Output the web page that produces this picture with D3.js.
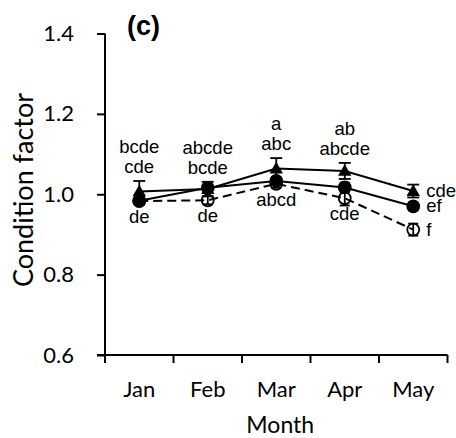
<!DOCTYPE html>
<html>
<head>
<meta charset="utf-8">
<script src="https://cdn.jsdelivr.net/npm/d3@7"></script>
<style>
  html, body { margin: 0; padding: 0; background: #fff; }
  svg { display: block; }
</style>
</head>
<body>
<svg id="chart" width="456" height="438"></svg>
<script>
// Monthly condition factor, three groups (mean ± SE) with significance letters
const months = ["Jan", "Feb", "Mar", "Apr", "May"];
const yTicks = [0.6, 0.8, 1.0, 1.2, 1.4];

const triMean = [1.007, 1.013, 1.064, 1.058, 1.008];
const triErr  = [0.026, 0.018, 0.026, 0.020, 0.016];
const dotMean = [0.984, 1.016, 1.033, 1.017, 0.970];
const dotErr  = [0.010, 0.008, 0.010, 0.012, 0.010];
const ringMean = [0.983, 0.985, 1.026, 0.990, 0.912];
const ringErr  = [0.008, 0.010, 0.010, 0.018, 0.015];

const triLetters  = ["bcde", "abcde", "a", "ab", "cde"];
const dotLetters  = ["cde", "bcde", "abc", "abcde", "ef"];
const ringLetters = ["de", "de", "abcd", "cde", "f"];

const svg = d3.select("#chart");
const plotLeft = 105, plotRight = 447.5, plotTop = 33.5, plotBottom = 355;

const x = d3.scaleBand().domain(months).range([plotLeft, plotRight]).padding(0);
const y = d3.scaleLinear().domain([0.6, 1.4]).range([plotBottom, plotTop]);
const cx = m => x(m) + x.bandwidth() / 2;

const axisFont = "Lato, 'Open Sans', sans-serif";
const letterFont = "'Liberation Sans', Arial, sans-serif";

// Axes
const yAxis = svg.append("g").attr("transform", `translate(${plotLeft},0)`)
  .call(d3.axisLeft(y).tickValues(yTicks).tickFormat(d3.format(".1f")).tickSize(8).tickPadding(23));
const xAxis = svg.append("g").attr("transform", `translate(0,${plotBottom})`)
  .call(d3.axisBottom(x).tickSize(0).tickPadding(26));
[yAxis, xAxis].forEach(g => {
  g.select(".domain").attr("stroke", "#000").attr("stroke-width", 2);
  g.selectAll(".tick line").attr("stroke", "#000").attr("stroke-width", 2);
  g.selectAll("text").attr("fill", "#000").style("font-family", axisFont).style("font-size", "22px");
});
yAxis.select(".domain").attr("d", `M0,${plotTop}V${plotBottom}`);
xAxis.select(".domain").attr("d", `M${plotLeft - 8},0H${plotRight}`);
// category separators below the x axis
xAxis.selectAll(".sep").data(months.concat(["_end"])).join("line")
  .attr("class", "sep")
  .attr("x1", (d, i) => i < months.length ? x(d) : plotRight)
  .attr("x2", (d, i) => i < months.length ? x(d) : plotRight)
  .attr("y1", 0).attr("y2", 8)
  .attr("stroke", "#000").attr("stroke-width", 2);

// Axis titles
svg.append("text")
  .attr("transform", `translate(33,190) rotate(-90)`)
  .attr("text-anchor", "middle")
  .style("font-family", axisFont).style("font-size", "27px")
  .text("Condition factor");
svg.append("text")
  .attr("x", (plotLeft + plotRight) / 2 + 4).attr("y", 433)
  .attr("text-anchor", "middle")
  .style("font-family", axisFont).style("font-size", "23px")
  .text("Month");
svg.append("text")
  .attr("x", 127).attr("y", 35)
  .style("font-family", letterFont).style("font-size", "27px").style("font-weight", "bold")
  .text("(c)");

const plot = svg.append("g");

function drawSeries(mean, err, opts) {
  const pts = months.map((m, i) => ({ m, v: mean[i], e: err[i] }));
  const line = d3.line().x(d => cx(d.m)).y(d => y(d.v));
  plot.append("path").datum(pts)
    .attr("d", line)
    .attr("fill", "none").attr("stroke", "#000").attr("stroke-width", 2)
    .attr("stroke-dasharray", opts.dash || null);

  const g = plot.append("g");
  if (opts.shape === "triangle") {
    g.selectAll("path").data(pts).join("path")
      .attr("d", d3.symbol().type(d3.symbolTriangle).size(78))
      .attr("transform", d => `translate(${cx(d.m)},${y(d.v) + 1})`)
      .attr("fill", "#000");
  } else {
    g.selectAll("circle").data(pts).join("circle")
      .attr("cx", d => cx(d.m)).attr("cy", d => y(d.v)).attr("r", 6)
      .attr("fill", opts.shape === "ring" ? "none" : "#000")
      .attr("stroke", "#000").attr("stroke-width", 1.8);
  }

  const eb = plot.append("g").attr("stroke", "#000").attr("stroke-width", 1.8);
  const cap = opts.cap / 2;
  pts.forEach(d => {
    const px = cx(d.m), y1 = y(d.v + d.e), y2 = y(d.v - d.e);
    eb.append("line").attr("x1", px).attr("x2", px).attr("y1", y1).attr("y2", y2);
    eb.append("line").attr("x1", px - cap).attr("x2", px + cap).attr("y1", y1).attr("y2", y1);
    eb.append("line").attr("x1", px - cap).attr("x2", px + cap).attr("y1", y2).attr("y2", y2);
  });
}

drawSeries(ringMean, ringErr, { shape: "ring", dash: "9,5", cap: 10 });
drawSeries(dotMean, dotErr, { shape: "dot", cap: 10 });
drawSeries(triMean, triErr, { shape: "triangle", cap: 12 });

// Significance letters
const lab = svg.append("g")
  .style("font-family", letterFont).style("font-size", "18.5px").attr("fill", "#000");
const last = months.length - 1;
months.forEach((m, i) => {
  const px = cx(m);
  if (i === last) {
    [[triLetters, triMean], [dotLetters, dotMean], [ringLetters, ringMean]].forEach(([L, M]) => {
      lab.append("text").attr("x", px + 13).attr("y", y(M[i]) + 6).text(L[i]);
    });
    return;
  }
  const capY = y(triMean[i] + triErr[i]);
  lab.append("text").attr("x", px).attr("y", capY - 8).attr("text-anchor", "middle").text(dotLetters[i]);
  lab.append("text").attr("x", px).attr("y", capY - 28).attr("text-anchor", "middle").text(triLetters[i]);
  lab.append("text").attr("x", px).attr("y", y(ringMean[i]) + 22).attr("text-anchor", "middle").text(ringLetters[i]);
});
</script>
</body>
</html>
